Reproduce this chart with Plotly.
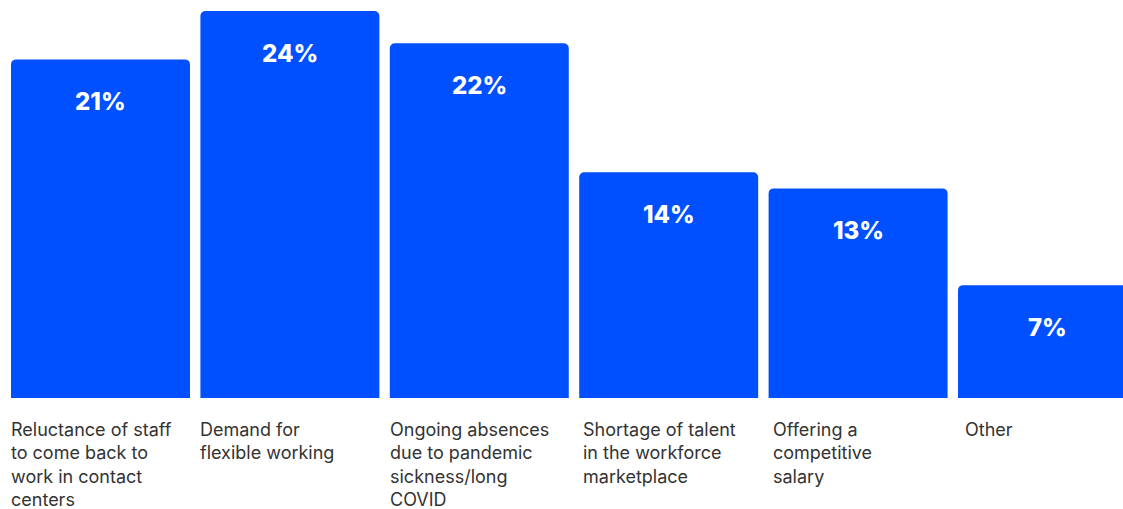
import plotly.graph_objects as go

# Survey results: challenges reported for contact-center staffing
categories = [
    "Reluctance of staff<br>to come back to<br>work in contact<br>centers",
    "Demand for<br>flexible working",
    "Ongoing absences<br>due to pandemic<br>sickness/long<br>COVID",
    "Shortage of talent<br>in the workforce<br>marketplace",
    "Offering a<br>competitive<br>salary",
    "Other",
]
values = [21, 24, 22, 14, 13, 7]
value_labels = [f"{v}%" for v in values]

BLUE = "#0050FF"
TEXT = "#333333"
BAR_W = 0.945

x = list(range(len(values)))

fig = go.Figure(
    go.Bar(
        x=x,
        y=values,
        width=BAR_W,
        marker=dict(color=BLUE, line=dict(width=0), cornerradius=5),
        hoverinfo="skip",
    )
)

# value labels near the top of each bar
for xi, v, lab in zip(x, values, value_labels):
    fig.add_annotation(
        x=xi, y=v, text=lab, showarrow=False,
        xanchor="center", yanchor="middle", yshift=-42,
        font=dict(family="Inter, sans-serif", size=24, color="white", weight=800),
    )

# category labels under the bars, left aligned
label_nudge = [0, 0, 0, 4, 4, 7]
for xi, cat, dx in zip(x, categories, label_nudge):
    fig.add_annotation(
        x=xi - BAR_W / 2, y=0, text=cat, showarrow=False,
        xanchor="left", yanchor="top", align="left",
        xshift=dx - 2, yshift=-19,
        font=dict(family="Inter, sans-serif", size=18, color=TEXT),
    )

fig.update_layout(
    width=1123, height=509,
    margin=dict(l=0, r=0, t=11, b=111),
    paper_bgcolor="white", plot_bgcolor="white",
    showlegend=False,
    xaxis=dict(range=[-0.5306, 5.3987], visible=False, fixedrange=True),
    yaxis=dict(range=[0, 24], visible=False, fixedrange=True),
)

fig.write_html("out.html", config={"displayModeBar": False})
